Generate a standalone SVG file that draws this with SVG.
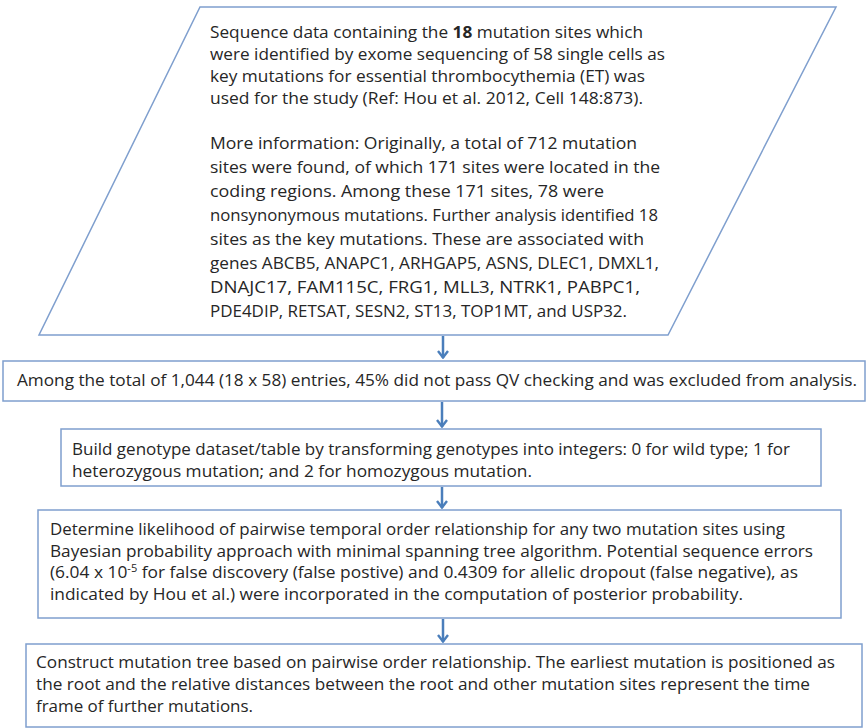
<svg xmlns="http://www.w3.org/2000/svg" width="867" height="728" viewBox="0 0 867 728">
<defs>
<style>
.box{fill:#fff;stroke:#7f9fce;stroke-width:1.5}
.t{font-family:"Open Sans","Liberation Sans",sans-serif;font-size:16.5px;fill:#262626}
.b{font-weight:bold}
.con line{stroke:#4a7ebb;stroke-width:2.5}
</style>
<marker id="ah" viewBox="0 0 12 10" refX="6" refY="9" markerWidth="12" markerHeight="10" markerUnits="userSpaceOnUse" orient="0">
<path d="M1,2 L6,8.5 L11,2" fill="none" stroke="#4a7ebb" stroke-width="2.4"/>
</marker>
</defs>
<rect width="867" height="728" fill="#fff"/>
<g id="n0">
<polygon class="box" points="200,7 836,7 668,335 39,335"/>
<text class="t" x="210" y="38" textLength="433" lengthAdjust="spacingAndGlyphs">Sequence data containing the <tspan class="b">18</tspan> mutation sites which</text>
<text class="t" x="210" y="60" textLength="455" lengthAdjust="spacingAndGlyphs">were identified by exome sequencing of 58 single cells as</text>
<text class="t" x="210" y="82" textLength="435" lengthAdjust="spacingAndGlyphs">key mutations for essential thrombocythemia (ET) was</text>
<text class="t" x="210" y="104" textLength="433" lengthAdjust="spacingAndGlyphs">used for the study (Ref: Hou et al. 2012, Cell 148:873).</text>
<text class="t" x="210" y="149" textLength="427" lengthAdjust="spacingAndGlyphs">More information: Originally, a total of 712 mutation</text>
<text class="t" x="210" y="173" textLength="450" lengthAdjust="spacingAndGlyphs">sites were found, of which 171 sites were located in the</text>
<text class="t" x="210" y="197" textLength="394" lengthAdjust="spacingAndGlyphs">coding regions. Among these 171 sites, 78 were</text>
<text class="t" x="210" y="221" textLength="448" lengthAdjust="spacingAndGlyphs">nonsynonymous mutations. Further analysis identified 18</text>
<text class="t" x="210" y="245" textLength="434" lengthAdjust="spacingAndGlyphs">sites as the key mutations. These are associated with</text>
<text class="t" x="210" y="269" textLength="449" lengthAdjust="spacingAndGlyphs">genes ABCB5, ANAPC1, ARHGAP5, ASNS, DLEC1, DMXL1,</text>
<text class="t" x="210" y="293" textLength="430" lengthAdjust="spacingAndGlyphs">DNAJC17, FAM115C, FRG1, MLL3, NTRK1, PABPC1,</text>
<text class="t" x="210" y="317" textLength="417" lengthAdjust="spacingAndGlyphs">PDE4DIP, RETSAT, SESN2, ST13, TOP1MT, and USP32.</text>
</g>
<g id="n1">
<rect class="box" x="3" y="361" width="862" height="40"/>
<text class="t" x="17" y="386" textLength="840" lengthAdjust="spacingAndGlyphs">Among the total of 1,044 (18 x 58) entries, 45% did not pass QV checking and was excluded from analysis.</text>
</g>
<g id="n2">
<rect class="box" x="61" y="429" width="760" height="57"/>
<text class="t" x="72" y="455" textLength="718" lengthAdjust="spacingAndGlyphs">Build genotype dataset/table by transforming genotypes into integers: 0 for wild type; 1 for</text>
<text class="t" x="72" y="477" textLength="460" lengthAdjust="spacingAndGlyphs">heterozygous mutation; and 2 for homozygous mutation.</text>
</g>
<g id="n3">
<rect class="box" x="38" y="510" width="803" height="108"/>
<text class="t" x="50" y="535" textLength="735" lengthAdjust="spacingAndGlyphs">Determine likelihood of pairwise temporal order relationship for any two mutation sites using</text>
<text class="t" x="50" y="557" textLength="763" lengthAdjust="spacingAndGlyphs">Bayesian probability approach with minimal spanning tree algorithm. Potential sequence errors</text>
<text class="t" x="50" y="578" textLength="748" lengthAdjust="spacingAndGlyphs">(6.04 x 10<tspan font-size="10.5" dy="-6">-5</tspan><tspan dy="6"> for false discovery (false postive) and 0.4309 for allelic dropout (false negative), as</tspan></text>
<text class="t" x="50" y="600" textLength="693" lengthAdjust="spacingAndGlyphs">indicated by Hou et al.) were incorporated  in the computation of posterior probability.</text>
</g>
<g id="n4">
<rect class="box" x="26" y="644" width="836" height="83"/>
<text class="t" x="36" y="668" textLength="799" lengthAdjust="spacingAndGlyphs">Construct mutation tree based on pairwise order relationship. The earliest mutation is positioned as</text>
<text class="t" x="36" y="690" textLength="774" lengthAdjust="spacingAndGlyphs">the root and the relative distances between the root and other mutation sites represent the time</text>
<text class="t" x="36" y="712" textLength="217" lengthAdjust="spacingAndGlyphs">frame of further mutations.</text>
</g>
<g id="connectors" class="con">
<line x1="443" y1="336" x2="443" y2="358" marker-end="url(#ah)"/>
<line x1="442" y1="402" x2="442" y2="427" marker-end="url(#ah)"/>
<line x1="442" y1="487" x2="442" y2="508" marker-end="url(#ah)"/>
<line x1="443" y1="619" x2="443" y2="642" marker-end="url(#ah)"/>
</g>
</svg>
